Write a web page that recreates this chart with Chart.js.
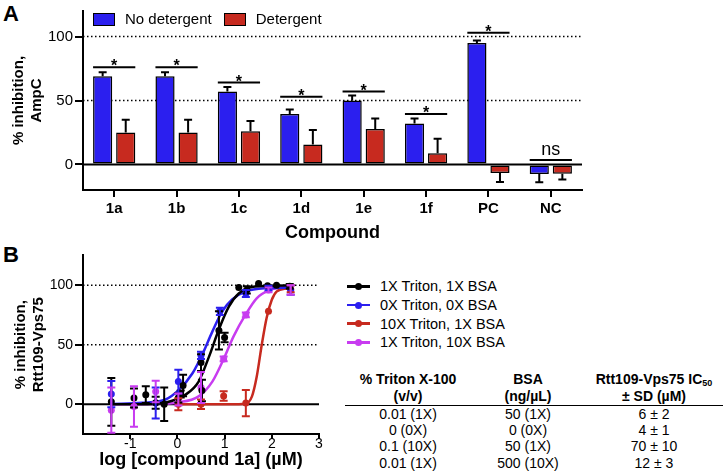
<!DOCTYPE html>
<html>
<head>
<meta charset="utf-8">
<script src="https://cdn.jsdelivr.net/npm/chart.js@4.4.1/dist/chart.umd.min.js"></script>
<style>
  body { margin: 0; width: 724px; height: 471px; background: #fff; position: relative; overflow: hidden;
         font-family: "Liberation Sans", Arial, sans-serif; color: #000; }
  #chartA { position: absolute; left: 0; top: 0; }
  #chartB { position: absolute; left: 0; top: 245px; }
  .panel { position: absolute; font-weight: bold; font-size: 22px; line-height: 22px; }
  #legendA { position: absolute; left: 93px; top: 10px; display: flex; gap: 12px; font-size: 15px; line-height: 18px; }
  #legendA .item { display: flex; align-items: center; }
  #legendA .box { width: 22px; height: 13px; box-sizing: border-box; border: 1.5px solid #000; margin-right: 10px; }
  #legendB { position: absolute; left: 347px; top: 277px; font-size: 14.5px; }
  #legendB .row { height: 18.7px; display: flex; align-items: center; }
  #legendB .mark { position: relative; width: 23px; height: 2.5px; margin-right: 10px; }
  #legendB .dot { position: absolute; left: 8px; top: -2.25px; width: 7px; height: 7px; border-radius: 50%; }
  #ic50 { position: absolute; left: 345px; top: 371px; width: 378px; border-collapse: collapse; font-size: 14px; }
  #ic50 th { font-weight: bold; line-height: 17px; padding: 0; border-bottom: 1.5px solid #000; text-align: center; vertical-align: bottom; }
  #ic50 td { line-height: 16.2px; padding: 0; text-align: center; }
  #ic50 sub { font-size: 9px; vertical-align: -2px; line-height: 0; }
</style>
</head>
<body>
<div class="panel" style="left:3px; top:3px;">A</div>
<div class="panel" style="left:3px; top:244px;">B</div>
<canvas id="chartA" width="600" height="245"></canvas>
<canvas id="chartB" width="340" height="226"></canvas>
<div id="legendA"></div>
<div id="legendB"></div>
<table id="ic50">
  <colgroup><col style="width:126px"><col style="width:114px"><col style="width:138px"></colgroup>
  <thead><tr>
    <th>% Triton X-100<br>(v/v)</th>
    <th>BSA<br>(ng/µL)</th>
    <th>Rtt109-Vps75 IC<sub>50</sub><br>± SD (µM)</th>
  </tr></thead>
  <tbody id="ic50body"></tbody>
</table>
<script>
const fontFamily = '"Liberation Sans", Arial, sans-serif';
Chart.defaults.font.family = fontFamily;
Chart.defaults.color = "#000";

// ---- panel A data ----
const compounds = ["1a", "1b", "1c", "1d", "1e", "1f", "PC", "NC"];
const noDetergent = [69, 69, 57, 39.5, 50, 32, 95, -7.5];
const noDetergentErr = [3, 3, 3.5, 3.5, 4, 4, 2, 6.5];
const detergent = [25, 25, 26, 15.5, 27.7, 8.7, -6.7, -7.2];
const detergentErr = [10, 10, 8, 11.5, 8.3, 11.3, 7, 4.6];
const sigHeights = [76, 76, 64, 53, 57, 39.4, 103, 3.5];
const sigMarks = ["*", "*", "*", "*", "*", "*", "*", "ns"];
const yTicksA = [0, 50, 100];

// ---- panel B data (log uM, % inhibition, SD) ----
const seriesNames = ["1X Triton, 1X BSA", "0X Triton, 0X BSA", "10X Triton, 1X BSA", "1X Triton, 10X BSA"];
const seriesColors = ["#000000", "#2b1fef", "#c72a1f", "#c83cf0"];

const blackLogConc = [-1.4, -0.92, -0.67, -0.46, -0.28, 0.02, 0.07, 0.12, 0.5, 0.52, 0.88, 1.0, 1.3, 1.47, 1.72, 1.91, 2.1, 2.38];
const blackInhib   = [2, 5.3, 8, 1.2, 0, 5.5, 8.6, 15.7, 35, 11.5, 62, 56, 98, 96, 101.4, 99.5, 100, 99];
const blackSd      = [20, 8, 7, 5, 14, 4, 3, 9, 7, 9, 16, 4, 0, 3, 0, 0, 0, 2];

const blueLogConc = [-1.4, -0.46, 0.02, 0.5, 0.9, 1.45, 1.93, 2.4];
const blueInhib   = [8.5, 1, 19, 41, 78, 93, 97.5, 96];
const blueSd      = [11, 13, 10, 3, 3, 3, 2, 4];

const redLogConc = [0.02, 0.5, 0.98, 1.45, 1.93, 2.4];
const redInhib   = [0, 0, 7, 1, 78, 97];
const redSd      = [5, 4, 4, 11, 0, 3];

const magentaLogConc = [-1.4, -0.92, -0.46, 0.02, 0.5, 0.98, 1.45, 1.93, 2.4];
const magentaInhib   = [-5, -2, 10.7, 4, 14, 38, 75, 96, 96];
const magentaSd      = [19, 17, 9, 5, 13, 2, 2, 2, 4];

// fitted curves
const blackFitX = [-1.4, -0.5, -0.25, 0.17, 0.45, 0.67, 0.88, 1.09, 1.3, 1.58, 2.0, 2.4];
const blackFitY = [0, 0.3, 1.4, 8, 19, 40, 63, 82, 93, 98.5, 99.5, 99.7];
const blueFitX = [-1.4, -0.75, -0.25, 0.03, 0.32, 0.53, 0.74, 0.95, 1.16, 1.44, 1.9, 2.4];
const blueFitY = [0.3, 1.2, 4, 12, 26, 42, 61, 78, 88, 94.6, 97.5, 98];
const redFitX = [0.02, 1.12, 1.44, 1.58, 1.68, 1.79, 1.89, 2.0, 2.1, 2.32, 2.4];
const redFitY = [0, 0, 0.5, 6.6, 23, 50.6, 72.5, 87.7, 94.6, 97.3, 97.5];
const magentaFitX = [-1.4, -0.5, 0, 0.45, 0.74, 0.98, 1.19, 1.44, 1.68, 1.96, 2.17, 2.4];
const magentaFitY = [0, 0.3, 1.5, 6.6, 19, 38, 57, 75, 89, 96, 98, 98.7];

const xTicksB = [-1, 0, 1, 2, 3];
const yTicksB = [0, 50, 100];

// ---- table ----
const tritonCol = ["0.01 (1X)", "0 (0X)", "0.1 (10X)", "0.01 (1X)"];
const bsaCol = ["50 (1X)", "0 (0X)", "50 (1X)", "500 (10X)"];
const ic50Col = ["6 ± 2", "4 ± 1", "70 ± 10", "12 ± 3"];

//dotted lines at 50/100 and a solid line at zero
const refLines = {
    id: "refLines",
    beforeDatasetsDraw(chart, args, opts) {
        const { ctx, chartArea, scales } = chart;
        ctx.save();
        ctx.strokeStyle = "#000";
        ctx.lineWidth = 1.5;
        ctx.setLineDash([1.5, 2.5]);
        opts.dotted.forEach((v) => {
            const y = scales.y.getPixelForValue(v);
            ctx.beginPath();
            ctx.moveTo(chartArea.left, y);
            ctx.lineTo(chartArea.right, y);
            ctx.stroke();
        });
        ctx.setLineDash([]);
        ctx.lineWidth = 2;
        const y0 = scales.y.getPixelForValue(0);
        ctx.beginPath();
        ctx.moveTo(chartArea.left, y0);
        ctx.lineTo(chartArea.right, y0);
        ctx.stroke();
        ctx.restore();
    },
};

//error bars: bars get one-sided bars, points get symmetric ones
const errorBars = {
    id: "errorBars",
    afterDatasetsDraw(chart) {
        const { ctx, scales } = chart;
        chart.data.datasets.forEach((ds, di) => {
            if (!ds.errors) return;
            const meta = chart.getDatasetMeta(di);
            meta.data.forEach((el, i) => {
                const err = ds.errors[i];
                if (!err) return;
                const raw = ds.data[i];
                const v = typeof raw === "object" ? raw.y : raw;
                ctx.save();
                ctx.strokeStyle = ds.errorColor;
                ctx.lineWidth = 2;
                ctx.beginPath();
                if (ds.oneSided) {
                    const dir = v < 0 ? -1 : 1;
                    const yEnd = scales.y.getPixelForValue(v + dir * err);
                    ctx.moveTo(el.x, el.y);
                    ctx.lineTo(el.x, yEnd);
                    ctx.moveTo(el.x - 4, yEnd);
                    ctx.lineTo(el.x + 4, yEnd);
                } else {
                    const yTop = scales.y.getPixelForValue(v + err);
                    const yBot = scales.y.getPixelForValue(v - err);
                    ctx.moveTo(el.x, yTop);
                    ctx.lineTo(el.x, yBot);
                    ctx.moveTo(el.x - 4, yTop);
                    ctx.lineTo(el.x + 4, yTop);
                    ctx.moveTo(el.x - 4, yBot);
                    ctx.lineTo(el.x + 4, yBot);
                }
                ctx.stroke();
                ctx.restore();
            });
        });
    },
};

//significance lines over each pair
const sigBars = {
    id: "sigBars",
    afterDatasetsDraw(chart) {
        const { ctx, scales } = chart;
        const left = chart.getDatasetMeta(0).data;
        const right = chart.getDatasetMeta(1).data;
        ctx.save();
        ctx.strokeStyle = "#000";
        ctx.fillStyle = "#000";
        ctx.lineWidth = 2;
        ctx.textAlign = "center";
        ctx.textBaseline = "alphabetic";
        sigHeights.forEach((h, i) => {
            const x1 = left[i].x - left[i].width / 2;
            const x2 = right[i].x + right[i].width / 2;
            const y = scales.y.getPixelForValue(h);
            ctx.beginPath();
            ctx.moveTo(x1, y);
            ctx.lineTo(x2, y);
            ctx.stroke();
            if (sigMarks[i] === "ns") {
                ctx.font = "18px " + fontFamily;
                ctx.fillText("ns", (x1 + x2) / 2, y - 5);
            } else {
                ctx.font = "bold 16px " + fontFamily;
                ctx.fillText(sigMarks[i], (x1 + x2) / 2, y + 4);
            }
        });
        ctx.restore();
    },
};

const blue = seriesColors[1];
const red = seriesColors[2];

//Panel A bar chart
let chartA = new Chart(document.getElementById("chartA"), {
    type: "bar",
    data: {
        labels: compounds,
        datasets: [
            {
                label: "No detergent",
                data: noDetergent,
                errors: noDetergentErr,
                oneSided: true,
                errorColor: "#000",
                backgroundColor: blue,
                borderColor: "#000",
                borderWidth: 1.5,
                borderSkipped: false,
                categoryPercentage: 0.74,
                barPercentage: 0.83,
            },
            {
                label: "Detergent",
                data: detergent,
                errors: detergentErr,
                oneSided: true,
                errorColor: "#000",
                backgroundColor: red,
                borderColor: "#000",
                borderWidth: 1.5,
                borderSkipped: false,
                categoryPercentage: 0.74,
                barPercentage: 0.83,
            },
        ],
    },
    options: {
        responsive: false,
        animation: false,
        events: [],
        layout: { padding: { left: 0, right: 18, top: 8, bottom: 0 } },
        plugins: {
            legend: { display: false },
            tooltip: { enabled: false },
            refLines: { dotted: [50, 100] },
        },
        scales: {
            x: {
                grid: { offset: false, drawOnChartArea: false, color: "#000", lineWidth: 2, tickLength: 7 },
                border: { color: "#000", width: 2 },
                ticks: { font: { size: 15, weight: "bold" }, padding: 3 },
                title: { display: true, text: "Compound", font: { size: 18, weight: "bold" }, padding: { top: 0, bottom: 1 } },
                afterFit: (s) => { s.height = 55; },
            },
            y: {
                min: -20,
                max: 120,
                afterBuildTicks: (s) => { s.ticks = yTicksA.map((v) => ({ value: v })); },
                grid: { drawOnChartArea: false, color: "#000", lineWidth: 2, tickLength: 8 },
                border: { color: "#000", width: 2 },
                ticks: { font: { size: 15 }, padding: 2 },
                title: {
                    display: true,
                    text: ["% inhibition,", "AmpC"],
                    font: { size: 15, weight: "bold", lineHeight: 1.2 },
                    padding: { top: 10, bottom: 0 },
                },
                afterFit: (s) => { s.width = 83; },
            },
        },
    },
    plugins: [refLines, errorBars, sigBars],
});

//Panel B dose response
const pointSets = [
    [blackLogConc, blackInhib, blackSd],
    [blueLogConc, blueInhib, blueSd],
    [redLogConc, redInhib, redSd],
    [magentaLogConc, magentaInhib, magentaSd],
];
const fitSets = [
    [blackFitX, blackFitY],
    [blueFitX, blueFitY],
    [redFitX, redFitY],
    [magentaFitX, magentaFitY],
];
const datasetsB = [];
fitSets.forEach(([xs, ys], k) => {
    datasetsB.push({
        type: "line",
        label: seriesNames[k] + " fit",
        data: xs.map((x, i) => ({ x: x, y: ys[i] })),
        borderColor: seriesColors[k],
        borderWidth: 2.5,
        pointRadius: 0,
        cubicInterpolationMode: "monotone",
        fill: false,
        order: 2,
    });
});
pointSets.forEach(([xs, ys, sd], k) => {
    datasetsB.push({
        type: "scatter",
        label: seriesNames[k],
        data: xs.map((x, i) => ({ x: x, y: ys[i] })),
        errors: sd,
        errorColor: seriesColors[k],
        backgroundColor: seriesColors[k],
        borderWidth: 0,
        pointRadius: 3.5,
        order: 1,
    });
});

let chartB = new Chart(document.getElementById("chartB"), {
    type: "scatter",
    data: { datasets: datasetsB },
    options: {
        responsive: false,
        animation: false,
        events: [],
        layout: { padding: { left: 0, right: 21, top: 8, bottom: 0 } },
        plugins: {
            legend: { display: false },
            tooltip: { enabled: false },
            refLines: { dotted: [50, 100] },
        },
        scales: {
            x: {
                type: "linear",
                min: -2,
                max: 3,
                afterBuildTicks: (s) => { s.ticks = xTicksB.map((v) => ({ value: v })); },
                grid: { drawOnChartArea: false, color: "#000", lineWidth: 2, tickLength: 5 },
                border: { color: "#000", width: 2 },
                ticks: { font: { size: 14 }, padding: -3 },
                title: { display: true, text: "log [compound 1a] (µM)", font: { size: 18, weight: "bold" }, padding: { top: 0, bottom: 0 } },
                afterFit: (s) => { s.height = 37; },
            },
            y: {
                min: -25,
                max: 125,
                afterBuildTicks: (s) => { s.ticks = yTicksB.map((v) => ({ value: v })); },
                grid: { drawOnChartArea: false, color: "#000", lineWidth: 2, tickLength: 8 },
                border: { color: "#000", width: 2 },
                ticks: { font: { size: 14 }, padding: 2 },
                title: {
                    display: true,
                    text: ["% inhibition,", "Rtt109-Vps75"],
                    font: { size: 15, weight: "bold", lineHeight: 1.25 },
                    padding: { top: 11, bottom: 0 },
                },
                afterFit: (s) => { s.width = 83; },
            },
        },
    },
    plugins: [refLines, errorBars],
});

//legends
const legendA = document.getElementById("legendA");
chartA.data.datasets.forEach((ds) => {
    legendA.innerHTML += `<div class="item"><span class="box" style="background:${ds.backgroundColor}"></span>${ds.label}</div>`;
});
const legendB = document.getElementById("legendB");
seriesNames.forEach((name, k) => {
    legendB.innerHTML += `<div class="row"><span class="mark" style="background:${seriesColors[k]}"><span class="dot" style="background:${seriesColors[k]}"></span></span>${name}</div>`;
});

//table rows
const body = document.getElementById("ic50body");
tritonCol.forEach((t, i) => {
    body.innerHTML += `<tr><td>${t}</td><td>${bsaCol[i]}</td><td>${ic50Col[i]}</td></tr>`;
});
</script>
</body>
</html>
